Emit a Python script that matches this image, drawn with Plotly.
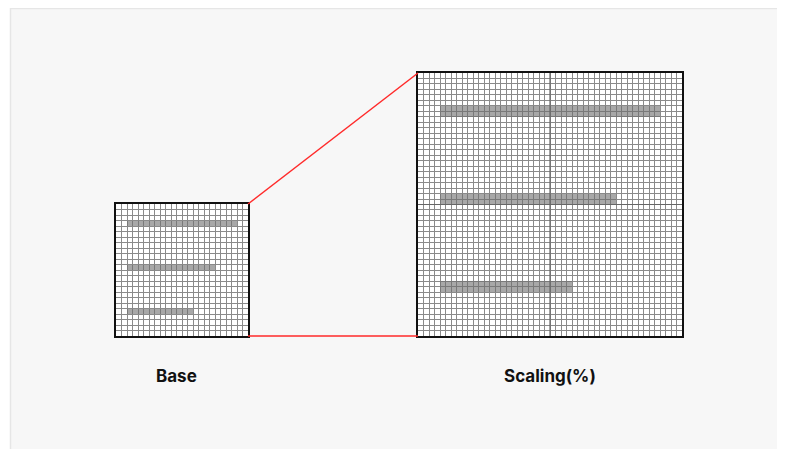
"""
Base vs scaled grid illustration: the same three bars drawn on a 24-cell grid
and again on a grid twice the size (200%).
"""

import plotly.graph_objects as go

# ── Data ────────────────────────────────────────────────────────────────────

GRID_UNITS = 24                  # grid extent, in base cells
BAR_ROWS = [3.5, 11.5, 19.5]     # centre row of each bar (base cells, top = 0)
BAR_START = 2                    # bars start two cells in
BAR_LENGTHS = [20, 16, 12]       # bar lengths in base cells
LABELS = ["Base", "Scaling(%)"]

# ── Styling ─────────────────────────────────────────────────────────────────

OFF = 8                          # page body margin
W, H = 785 - OFF, 449 - OFF
COLORS = {
    "panel": "#F7F7F7",
    "panel_edge": "#E6E6E6",
    "grid": "#8A8A8A",
    "grid_mid": "#666666",
    "bar": "rgba(110, 110, 110, 0.6)",
    "border": "#111111",
    "link": "#FF2A2A",
    "text": "#111111",
}

# pixel boxes of the two grids in the page (left, top, right, bottom)
BASE_BOX = (116, 204, 248, 336)
BIG_BOX = (418, 73, 682, 336)


def px_x(v):
    return (v - OFF) / W


def px_y(v):
    return 1 - (v - OFF) / H


fig = go.Figure()

# base grid, one row per cell
fig.add_trace(go.Bar(
    x=BAR_LENGTHS, y=BAR_ROWS, base=BAR_START, orientation="h",
    width=1, marker=dict(color=COLORS["bar"], line_width=0),
    xaxis="x", yaxis="y", hoverinfo="skip",
))
# scaled grid: same values, axis twice the size with half-cell gridlines
fig.add_trace(go.Bar(
    x=BAR_LENGTHS, y=BAR_ROWS, base=BAR_START, orientation="h",
    width=1, marker=dict(color=COLORS["bar"], line_width=0),
    xaxis="x2", yaxis="y2", hoverinfo="skip",
))

axis_common = dict(
    showgrid=True, gridcolor=COLORS["grid"], gridwidth=1,
    showticklabels=False, ticks="", zeroline=False,
    showline=True, linecolor=COLORS["border"], linewidth=2, mirror=True,
    fixedrange=True, tick0=0,
)

fig.update_layout(
    width=W, height=H,
    margin=dict(l=0, r=0, t=0, b=0),
    paper_bgcolor=COLORS["panel"],
    plot_bgcolor="white",
    showlegend=False,
    bargap=0,
    font=dict(family="Inter, Roboto, sans-serif", color=COLORS["text"]),
    xaxis=dict(axis_common, domain=[px_x(BASE_BOX[0]), px_x(BASE_BOX[2])],
               range=[0, GRID_UNITS], dtick=1, anchor="y"),
    yaxis=dict(axis_common, domain=[px_y(BASE_BOX[3]), px_y(BASE_BOX[1])],
               range=[GRID_UNITS, 0], dtick=1, anchor="x"),
    xaxis2=dict(axis_common, domain=[px_x(BIG_BOX[0]), px_x(BIG_BOX[2])],
                range=[0, GRID_UNITS], dtick=0.5, anchor="y2"),
    yaxis2=dict(axis_common, domain=[px_y(BIG_BOX[3]), px_y(BIG_BOX[1])],
                range=[GRID_UNITS, 0], dtick=0.5, anchor="x2"),
)

mid = GRID_UNITS / 2
shapes = [
    # thin panel edges at the top and left
    dict(type="rect", xref="paper", yref="paper", x0=0, x1=px_x(10), y0=0, y1=1,
         fillcolor="white", line_width=0, layer="below"),
    dict(type="line", xref="paper", yref="paper", x0=px_x(10), x1=1,
         y0=px_y(8.5), y1=px_y(8.5), line=dict(color=COLORS["panel_edge"], width=1.5)),
    dict(type="line", xref="paper", yref="paper", x0=px_x(10.5), x1=px_x(10.5),
         y0=0, y1=1, line=dict(color=COLORS["panel_edge"], width=1.5)),
    # darker centre lines on the scaled grid
    dict(type="line", xref="x2", yref="y2", x0=mid, x1=mid, y0=0, y1=GRID_UNITS,
         line=dict(color=COLORS["grid_mid"], width=1.2)),
    dict(type="line", xref="x2", yref="y2", x0=0, x1=GRID_UNITS, y0=mid, y1=mid,
         line=dict(color=COLORS["grid_mid"], width=1.2)),
    # red connectors between the two grids
    dict(type="line", xref="paper", yref="paper",
         x0=px_x(BASE_BOX[2]), y0=px_y(BASE_BOX[1]),
         x1=px_x(BIG_BOX[0]), y1=px_y(BIG_BOX[1]),
         line=dict(color=COLORS["link"], width=1.5)),
    dict(type="line", xref="paper", yref="paper",
         x0=px_x(BASE_BOX[2]), y0=px_y(BASE_BOX[3]),
         x1=px_x(BIG_BOX[0]), y1=px_y(BIG_BOX[3]),
         line=dict(color=COLORS["link"], width=1.5)),
]
fig.update_layout(shapes=shapes)

for label, cx in zip(LABELS, [176, 550]):
    fig.add_annotation(
        x=px_x(cx), y=px_y(376), xref="paper", yref="paper",
        text=f"<b>{label}</b>", showarrow=False,
        xanchor="center", yanchor="middle",
        font=dict(size=17, color=COLORS["text"]),
    )

fig.write_html("out.html", config={"displayModeBar": False})
